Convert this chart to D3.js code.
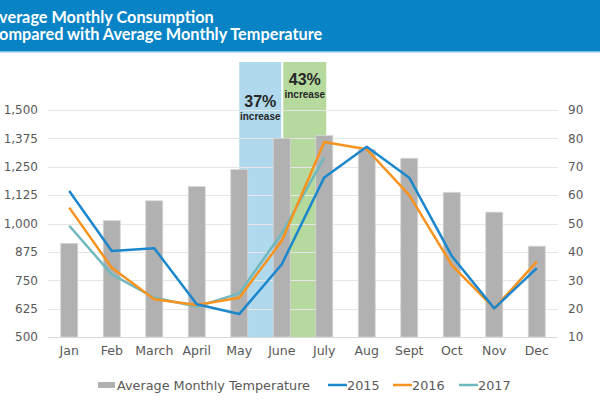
<!DOCTYPE html>
<html><head><meta charset="utf-8">
<script src="https://cdn.jsdelivr.net/npm/d3@7"></script>
<style>body{margin:0;background:#fff}svg{display:block}</style>
</head><body>
<svg id="chart" width="600" height="400"></svg>
<script>
const months = ["Jan","Feb","March","April","May","June","July","Aug","Sept","Oct","Nov","Dec"];
const temperature = [43,51,58,63,69,80,81,76,73,61,54,42];
const usage2015 = [1143,879,891,644,601,820,1203,1338,1202,857,626,803];
const usage2016 = [1070,805,666,641,673,923,1359,1327,1125,817,626,832];
const usage2017 = [990,776,673,634,692,957,1290,null,null,null,null,null];
const leftTicks = [500,625,750,875,1000,1125,1250,1375,1500];
const rightTicks = [10,20,30,40,50,60,70,80,90];
const titleLines = ["Average Monthly Consumption","Compared with Average Monthly Temperature"];
const highlights = [{from:"May",to:"June",pct:"37%",label:"increase"},{from:"June",to:"July",pct:"43%",label:"increase"}];

const svg = d3.select("#chart");
const font = "'DejaVu Sans', sans-serif";
const titleFont = "Lato, 'Noto Sans', sans-serif";
const hlFont = "'Liberation Sans', Arial, sans-serif";
const L = 48, R = 558, T = 110, B = 337;

// title band
svg.append("rect").attr("x",0).attr("y",0).attr("width",600).attr("height",52).attr("fill","#0884c6");
svg.append("rect").attr("x",0).attr("y",51).attr("width",600).attr("height",1.5).attr("fill","#7cc0e6");
svg.selectAll("text.title").data(titleLines).join("text")
  .attr("class","title")
  .attr("x",-11.5).attr("y",(d,i)=>23+i*16.5)
  .attr("fill","#fff").attr("font-family",titleFont).attr("font-weight","bold").attr("font-size",16.3)
  .text(d=>d);

const x = d3.scaleBand().domain(months).range([L,R]);
const yL = d3.scaleLinear().domain([500,1500]).range([B,T]);
const yR = d3.scaleLinear().domain([10,90]).range([B,T]);
const cx = m => x(m)+x.bandwidth()/2;

// highlight boxes
const hl = svg.append("g");
highlights.forEach((h,i)=>{
  const x0 = cx(h.from) + (i===0?0:1.5), x1 = cx(h.to) + (i===0?-0.5:2);
  hl.append("rect").attr("x",x0).attr("y",62).attr("width",x1-x0).attr("height",B-62)
    .attr("fill", i===0?"#b0d9ee":"#b6d99e");
  const mid=(x0+x1)/2, base = i===0?107:85;
  hl.append("text").attr("x",mid).attr("y",base).attr("text-anchor","middle")
    .attr("font-family",hlFont).attr("font-weight","bold").attr("font-size",16).attr("fill","#262626").text(h.pct);
  hl.append("text").attr("x",mid).attr("y",base+13).attr("text-anchor","middle")
    .attr("font-family",hlFont).attr("font-weight","bold").attr("font-size",10).attr("fill","#262626").text(h.label);
});

// gridlines
svg.append("g").selectAll("line").data(leftTicks).join("line")
  .attr("x1",L).attr("x2",R).attr("y1",d=>Math.round(yL(d))+0.5).attr("y2",d=>Math.round(yL(d))+0.5)
  .attr("stroke",d=>d===500?"#d9d9d9":"#e6e6e6").attr("stroke-width",1);

// bars
const bw = 17;
svg.append("g").selectAll("rect").data(temperature).join("rect")
  .attr("x",(d,i)=>cx(months[i])-bw/2).attr("width",bw)
  .attr("y",d=>yR(d)).attr("height",d=>B-yR(d))
  .attr("fill","#b1b1b1").attr("stroke","#d6d6d6").attr("stroke-width",0.8);

// lines
const series = [{v:usage2015,c:"#1c87cc",n:"2015"},{v:usage2016,c:"#f7931e",n:"2016"},{v:usage2017,c:"#6fb8bd",n:"2017"}];
const line = d3.line().defined(d=>d[1]!==null).x(d=>cx(d[0])).y(d=>yL(d[1]));
series.slice().reverse().forEach(s=>{
  svg.append("path").datum(months.map((m,i)=>[m,s.v[i]])).attr("d",line)
    .attr("fill","none").attr("stroke",s.c).attr("stroke-width",2.5).attr("stroke-linejoin","round");
});

// axes
const axL = d3.axisLeft(yL).tickValues(leftTicks).tickFormat(d3.format(",")).tickSize(0).tickPadding(10);
const gL = svg.append("g").attr("transform",`translate(${L},0)`).call(axL);
const axR = d3.axisRight(yR).tickValues(rightTicks).tickSize(0).tickPadding(10);
const gR = svg.append("g").attr("transform",`translate(${R},0)`).call(axR);
const axB = d3.axisBottom(x).tickSize(0).tickPadding(9);
const gB = svg.append("g").attr("transform",`translate(0,${B})`).call(axB);
[gL,gR].forEach(g=>{
  g.select(".domain").remove();
  g.selectAll("text").attr("font-family",font).attr("font-size",12).attr("fill","#595959");
});
gB.select(".domain").remove();
gB.selectAll("text").attr("font-family",font).attr("font-size",12.5).attr("fill","#595959");

// legend
const lg = svg.append("g").attr("font-family",font).attr("font-size",12.8).attr("fill","#595959");
lg.append("rect").attr("x",98).attr("y",382).attr("width",17).attr("height",6).attr("fill","#b1b1b1");
lg.append("text").attr("x",117).attr("y",389.5).attr("fill","#595959").text("Average Monthly Temperature");
const lx = [328,393,459];
series.forEach((s,i)=>{
  lg.append("line").attr("x1",lx[i]).attr("x2",lx[i]+19).attr("y1",385).attr("y2",385).attr("stroke",s.c).attr("stroke-width",2.5);
  lg.append("text").attr("x",lx[i]+19).attr("y",389.5).attr("fill","#595959").text(s.n);
});
</script>
</body></html>
